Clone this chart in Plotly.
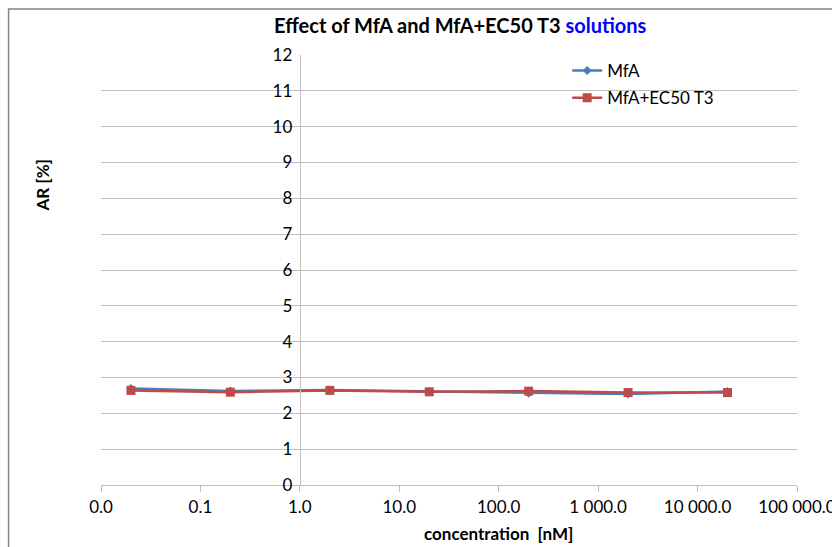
import plotly.graph_objects as go

concentration = [0.02, 0.2, 2, 20, 200, 2000, 20000]
mfa = [2.69, 2.62, 2.65, 2.61, 2.56, 2.54, 2.61]
mfa_ec50 = [2.64, 2.59, 2.64, 2.60, 2.62, 2.58, 2.58]
x_tickvals = [0.01, 0.1, 1, 10, 100, 1000, 10000, 100000]
x_ticktext = ["0.0", "0.1", "1.0", "10.0", "100.0", "1 000.0", "10 000.0", "100 000.0"]
y_tickvals = list(range(0, 13))

FONT = "Lato"
W, H = 832, 547
L, R, T, B = 100.5, 35, 55, 62
pw = W - L - R
ph = H - T - B

fig = go.Figure()
fig.add_trace(go.Scatter(
    x=concentration, y=mfa, name="MfA", mode="lines+markers",
    line=dict(color="#4a7ebb", width=2.5),
    marker=dict(symbol="diamond", size=7, color="#4a7ebb"),
    legendgroup="a",
))
fig.add_trace(go.Scatter(
    x=concentration, y=mfa_ec50, name="MfA+EC50 T3", mode="lines+markers",
    line=dict(color="#be4b48", width=2.5),
    marker=dict(symbol="square", size=9, color="#be4b48"),
    legendgroup="b",
))

def px_x(px):
    return (px - L) / pw

def px_y(py):
    return (H - B - py) / ph

fig.update_layout(
    width=W, height=H,
    margin=dict(l=L, r=R, t=T, b=B, autoexpand=False),
    plot_bgcolor="white", paper_bgcolor="white",
    font=dict(family=FONT, size=17, color="black"),
    title=dict(
        text="<b>Effect of MfA and MfA+EC50 T3 <span style='color:#0000ff'>solutions</span></b>",
        x=px_x(460), xref="paper", xanchor="center",
        y=1 - 26 / H, yref="container", yanchor="middle",
        font=dict(family=FONT, size=20, color="black"),
    ),
    xaxis=dict(
        type="log", range=[-2, 5], automargin=False,
        tickvals=x_tickvals, ticktext=x_ticktext, ticklabeloverflow="allow",
        showgrid=False, zeroline=False,
        showline=True, linecolor="#bfbfbf", linewidth=1.3,
        ticks="outside", ticklen=6, tickcolor="#bfbfbf", tickwidth=1.3,
        tickfont=dict(family=FONT, size=17, color="black"),
    ),
    yaxis=dict(
        range=[0, 12], tickvals=y_tickvals, automargin=False,
        showgrid=True, gridcolor="#bfbfbf", gridwidth=1.3,
        zeroline=False,
        showline=True, linecolor="#bfbfbf", linewidth=1.3,
        anchor="free", position=2 / 7,
        ticks="", ticklabelstandoff=4,
        tickfont=dict(family=FONT, size=17, color="black"),
    ),
    legend=dict(
        x=px_x(567), y=px_y(53), xanchor="left", yanchor="top",
        bgcolor="rgba(0,0,0,0)", font=dict(family=FONT, size=17),
        traceorder="grouped", tracegroupgap=2, itemwidth=30,
    ),
    annotations=[
        dict(text="<b>AR [%]</b>", x=px_x(41), y=px_y(186), xref="paper", yref="paper",
             showarrow=False, textangle=-90, font=dict(family=FONT, size=17),
             xanchor="center", yanchor="middle"),
        dict(text="<b>concentration  [nM]</b>", x=px_x(498), y=px_y(533), xref="paper", yref="paper",
             showarrow=False, font=dict(family=FONT, size=17),
             xanchor="center", yanchor="middle"),
    ],
    shapes=[
        dict(type="rect", xref="paper", yref="paper",
             x0=px_x(8), x1=px_x(900), y0=px_y(600), y1=px_y(9),
             line=dict(color="#868686", width=1.5), layer="below"),
    ],
)

fig.write_html("out.html")
